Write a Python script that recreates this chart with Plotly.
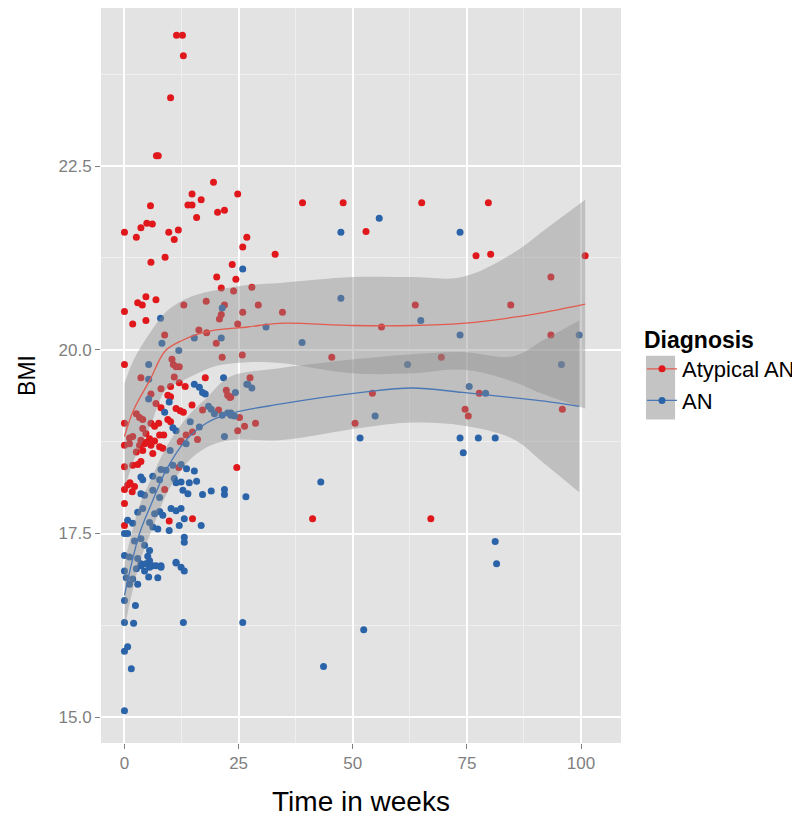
import plotly.graph_objects as go

# ---------------- data ----------------
atyp_week = [11.4,12.7,12.9,10.1,7.0,7.4,
 0,2.6,3.6,4.9,6.1,5.7,9.7,11.8,10.9,8.9,5.8,
 14.8,13.9,14.8,16.8,15.8,19.5,20.4,21.9,24.8,26.8,25.9,33.0,23.6,
 20.2,24.4,21.2,23.9,27.9,
 4.7,2.9,3.9,6.9,0,1.8,4.7,13.0,17.9,21.9,21.2,20.8,25.9,29.3,34.6,24.8,
 16.3,18.0,20.1,8.8,
 0,10.4,10.7,12.0,21.4,25.8,11.3,
 3.6,10.9,17.7,27.5,
 39.0,47.9,65.1,79.7,52.9,77.0,80.2,100.9,93.4,63.7,84.6,56.3,93.4,45.4,69.4,54.3,77.7,
 95.9,74.6,75.3,50.5,41.2,67.1,
 23.3,25.2,24.8,26.3,28.7,24.6,
 12.0,13.3,10.1,8.0,22.3,22.6,23.1,5.8,9.5,10.1,6.9,8.0,11.3,12.2,12.9,17.1,20.6,14.8,
 2.6,3.3,4.0,0,5.8,6.6,7.5,9.5,10.1,14.9,4.0,4.7,1.1,1.8,0,3.6,4.7,5.5,6.6,7.7,8.6,12.4,13.5,16.0,
 1.1,3.3,4.4,5.1,5.8,7.7,8.4,2.6,4.0,6.2,12.2,
 0,1.8,2.9,3.6,11.9,
 1.2,2.2,0.7,1.7,0,8.8,
 9.8,14.9,0,0]
atyp_bmi = [24.28,24.28,24.0,23.43,22.64,22.64,
 21.6,21.53,21.66,21.72,21.71,21.96,21.6,21.63,21.5,21.26,21.19,
 22.12,21.97,21.97,22.04,21.8,22.28,21.87,21.9,22.12,21.53,21.4,21.3,21.16,
 20.99,20.96,20.84,20.8,20.85,
 20.72,20.64,20.61,20.68,20.52,20.35,20.4,20.61,20.66,20.61,20.48,20.42,20.51,20.61,20.51,20.35,
 20.27,20.23,20.09,20.2,
 19.8,19.87,19.8,19.77,19.9,19.93,19.77,
 19.62,19.63,19.62,19.62,
 22.0,22.0,22.0,22.0,21.61,21.28,21.3,21.28,20.99,20.61,20.61,20.31,20.2,19.9,19.9,19.41,19.41,
 19.19,19.19,19.1,19.0,17.7,17.7,
 19.36,19.08,18.9,18.96,19.0,18.4,
 19.55,19.5,19.5,19.47,19.45,19.38,19.35,19.4,19.38,19.36,19.27,19.21,19.2,19.17,19.15,19.18,19.18,19.25,
 19.13,19.08,19.05,19.0,19.0,18.96,19.0,19.05,19.02,18.88,18.93,18.86,18.8,18.82,18.7,18.77,18.74,18.79,18.76,18.84,18.84,18.76,18.84,18.78,
 18.72,18.7,18.72,18.75,18.7,18.68,18.66,18.61,18.63,18.59,18.75,
 18.41,18.43,18.44,18.48,18.4,
 18.19,18.14,18.16,18.07,18.1,18.1,
 17.67,17.7,17.61,17.91]

an_week = [25.9,7.9,21.4,31.0,21.2,15.3,8.2,11.9,5.3,5.3,21.7,26.8,
 55.8,47.4,73.5,47.4,64.9,38.9,73.5,99.6,62.0,95.7,75.5,79.1,
 54.9,51.6,73.5,77.5,81.2,74.2,43.0,81.2,81.5,52.4,43.6,
 27.0,27.9,24.3,23.3,24.1,26.6,
 15.3,16.4,17.1,17.7,5.3,9.8,8.8,18.4,19.0,19.7,21.4,22.6,23.3,
 10.6,11.3,14.4,16.4,21.9,
 10.0,13.5,8.0,9.1,10.6,12.4,13.6,15.3,
 4.0,3.6,6.2,7.7,10.9,11.3,12.4,14.2,15.8,6.2,4.4,3.6,12.8,13.9,17.1,19.0,21.9,21.9,7.7,
 0.7,1.8,2.9,4.0,6.6,7.7,8.4,10.2,11.3,12.4,13.1,12.0,16.8,5.5,6.2,7.3,9.8,13.1,13.1,0.7,2.2,3.6,4.4,5.5,0,1.1,2.9,3.6,5.1,5.5,6.2,8.0,11.3,
 0,0.4,2.6,3.6,4.4,4.7,5.5,6.9,8.0,7.3,1.1,2.9,1.8,5.3,11.3,12.4,13.1,
 0,2.4,0,2.0,12.9,25.9,0.7,0,1.5,0,0]
an_bmi = [21.1,20.43,20.57,20.31,20.16,20.16,20.09,19.99,19.8,19.6,19.62,19.53,
 21.79,21.6,21.6,20.7,20.4,20.1,20.2,20.2,19.8,19.8,19.5,19.41,
 19.1,18.8,18.8,18.8,18.8,18.6,18.2,17.39,17.09,16.19,15.69,
 19.53,19.48,19.42,19.14,19.1,18.0,
 19.53,19.49,19.42,19.4,19.33,19.29,19.15,19.23,19.19,19.13,19.11,19.14,19.11,
 18.94,18.9,19.02,18.95,18.82,
 18.63,18.72,18.37,18.36,18.43,18.44,18.38,18.35,
 18.23,18.27,18.28,18.23,18.25,18.19,18.2,18.19,18.21,18.09,18.02,18.04,18.09,18.04,18.03,18.08,18.1,18.03,17.99,
 17.68,17.64,17.79,17.84,17.77,17.8,17.75,17.84,17.81,17.84,17.7,17.61,17.61,17.65,17.59,17.56,17.54,17.45,17.38,17.5,17.4,17.43,17.34,17.27,17.2,17.18,17.16,17.09,17.19,17.13,17.06,17.06,17.11,
 16.99,16.9,17.02,17.06,16.99,17.09,17.04,17.06,17.04,16.9,16.81,16.81,16.88,16.91,17.1,17.04,16.99,
 16.59,16.52,16.29,16.28,16.29,16.29,15.96,15.9,15.66,15.09,17.5]

# loess smooth
atyp_sm_week = [0, 2, 5.5, 9, 12.7, 16.4, 20, 27, 34, 50, 63, 74, 85, 92, 100.9]
atyp_sm_fit = [18.82, 19.18, 19.58, 19.99, 20.13, 20.22, 20.27, 20.31, 20.36, 20.33, 20.33, 20.36, 20.44, 20.51, 20.62]
atyp_sm_hi = [19.54, 19.86, 20.22, 20.51, 20.67, 20.76, 20.81, 20.88, 20.91, 20.99, 20.99, 20.99, 21.31, 21.63, 22.04]
atyp_sm_lo = [18.10, 18.49, 18.94, 19.45, 19.58, 19.69, 19.78, 19.83, 19.82, 19.68, 19.68, 19.73, 19.57, 19.39, 19.20]

an_sm_week = [0, 3.3, 6.2, 9.1, 13.5, 17.9, 23, 34, 52, 63, 74, 85, 92, 99.6]
an_sm_fit = [16.66, 17.5, 17.95, 18.36, 18.77, 19.0, 19.13, 19.26, 19.42, 19.48, 19.42, 19.35, 19.30, 19.23]
an_sm_hi = [17.10, 17.88, 18.29, 18.67, 19.07, 19.34, 19.63, 19.75, 19.88, 19.94, 19.97, 19.91, 20.14, 20.40]
an_sm_lo = [16.21, 17.10, 17.58, 18.02, 18.45, 18.67, 18.77, 18.77, 18.94, 19.01, 18.97, 18.79, 18.45, 18.06]

groups = ["Atypical AN", "AN"]
colors = {"Atypical AN": "#E0181C", "AN": "#2A63A8"}
line_colors = {"Atypical AN": "#E35A4E", "AN": "#4A78B5"}

x_ticks = [0, 25, 50, 75, 100]
y_ticks = [15.0, 17.5, 20.0, 22.5]
y_tick_labels = ["15.0", "17.5", "20.0", "22.5"]

fig = go.Figure()

fig.add_trace(go.Scatter(x=atyp_week, y=atyp_bmi, mode="markers", showlegend=False,
                         marker=dict(color=colors["Atypical AN"], size=7, line=dict(width=0)), hoverinfo="skip"))
fig.add_trace(go.Scatter(x=an_week, y=an_bmi, mode="markers", showlegend=False,
                         marker=dict(color=colors["AN"], size=7, line=dict(width=0)), hoverinfo="skip"))

ribbon = "rgba(140,140,140,0.42)"
for g, wk, fit, hi, lo in [("Atypical AN", atyp_sm_week, atyp_sm_fit, atyp_sm_hi, atyp_sm_lo),
                           ("AN", an_sm_week, an_sm_fit, an_sm_hi, an_sm_lo)]:
    fig.add_trace(go.Scatter(x=wk, y=lo, mode="lines", line=dict(width=0, shape="spline", color="rgba(0,0,0,0)"),
                             showlegend=False, hoverinfo="skip"))
    fig.add_trace(go.Scatter(x=wk, y=hi, mode="lines", fill="tonexty", fillcolor=ribbon,
                             line=dict(width=0, shape="spline", color="rgba(0,0,0,0)"),
                             showlegend=False, hoverinfo="skip"))
    fig.add_trace(go.Scatter(x=wk, y=fit, mode="lines", line=dict(color=line_colors[g], width=1.3, shape="spline"),
                             showlegend=False, hoverinfo="skip"))

for g in groups:
    fig.add_trace(go.Scatter(x=[None], y=[None], mode="lines+markers", name=g,
                             line=dict(color=line_colors[g], width=1.3),
                             marker=dict(color=colors[g], size=7)))

# grey legend key background (ggplot style)
fig.add_shape(type="rect", xref="paper", yref="paper", x0=1.048, x1=1.104, y0=0.44, y1=0.527,
              fillcolor="#C4C4C4", line=dict(width=0), layer="above")

fig.update_layout(
    width=792, height=820,
    margin=dict(l=93, r=178, t=0, b=85),
    paper_bgcolor="white", plot_bgcolor="#E3E3E3",
    font=dict(family="Liberation Sans, Arial, sans-serif"),
    legend=dict(title=dict(text="<b>Diagnosis</b>", font=dict(size=23, color="black")),
                font=dict(size=22, color="black"), x=1.04, xanchor="left", y=0.578, yanchor="top",
                bgcolor="rgba(0,0,0,0)", tracegroupgap=0, itemwidth=30, traceorder="normal"),
    xaxis=dict(range=[-5.14, 108.75], tickvals=x_ticks, ticks="outside", ticklen=5, tickcolor="#7F7F7F",
               tickfont=dict(size=17, color="#7F7F7F"), showgrid=True, gridcolor="white", gridwidth=1.5,
               zeroline=False, showline=False,
               minor=dict(dtick=12.5, tick0=12.5, showgrid=True, gridcolor="#EFEFEF", gridwidth=0.7, ticks=""),
               title=dict(text="Time in weeks", font=dict(size=28, color="black"), standoff=18)),
    yaxis=dict(range=[14.65, 24.65], tickvals=y_ticks, ticktext=y_tick_labels, ticks="outside", ticklen=5,
               tickcolor="#7F7F7F", tickfont=dict(size=17, color="#7F7F7F"), showgrid=True, gridcolor="white",
               gridwidth=1.5, zeroline=False, showline=False,
               minor=dict(dtick=1.25, tick0=16.25, showgrid=True, gridcolor="#EFEFEF", gridwidth=0.7, ticks=""),
               title=dict(text="BMI", font=dict(size=23, color="black"), standoff=16)),
)

fig.write_html("out.html")
